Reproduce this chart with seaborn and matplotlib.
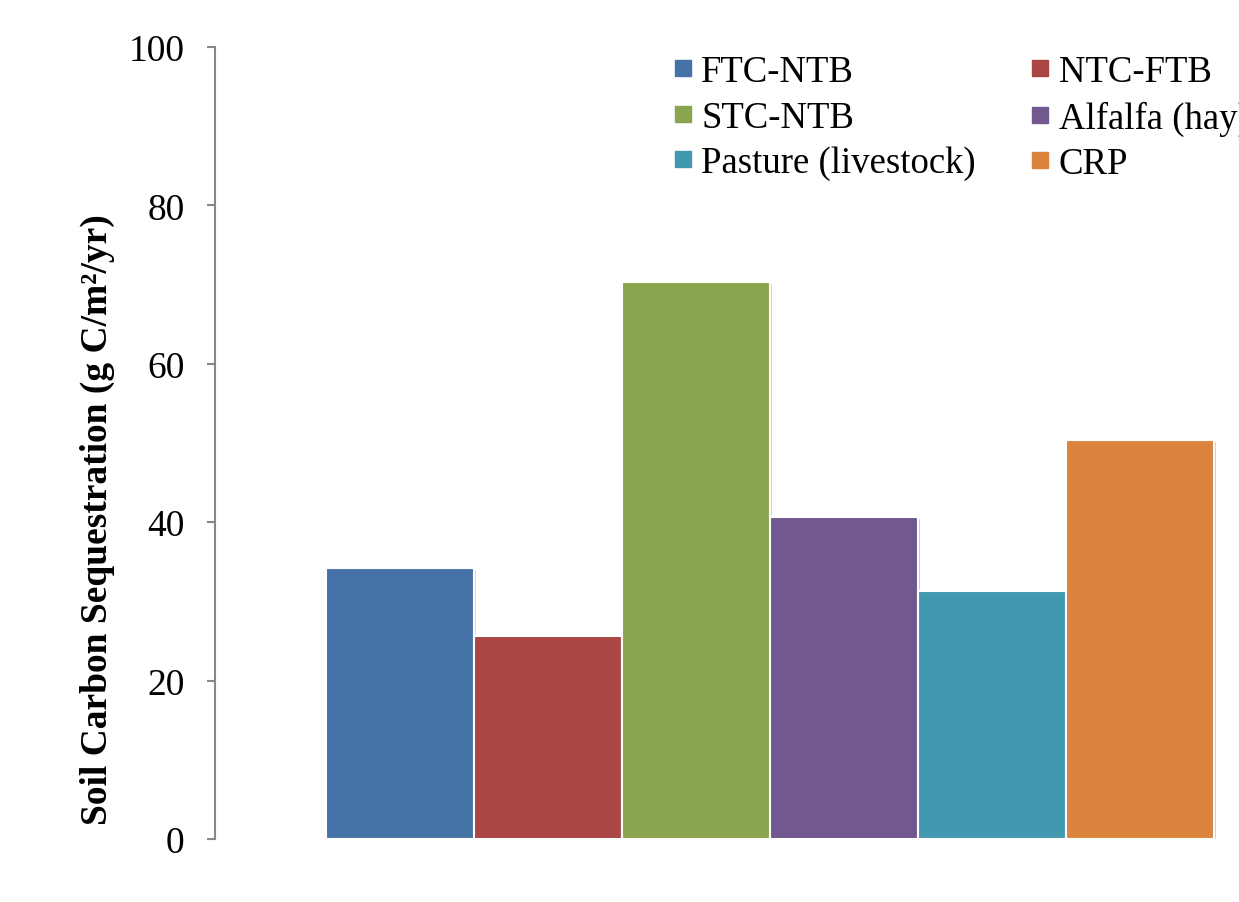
import matplotlib
matplotlib.use("Agg")
import matplotlib.pyplot as plt
import matplotlib.patheffects as pe
from matplotlib.lines import Line2D
import seaborn as sns
import pandas as pd

scenarios = ["FTC-NTB", "NTC-FTB", "STC-NTB", "Alfalfa (hay)", "Pasture (livestock)", "CRP"]
values = [34.2, 25.6, 70.3, 40.7, 31.3, 50.4]
colors = ["#4572A7", "#AA4643", "#89A54E", "#71588F", "#4198AF", "#DB843D"]
yticks = [0, 20, 40, 60, 80, 100]
ylabel = "Soil Carbon Sequestration (g C/m\u00b2/yr)"

df = pd.DataFrame({"group": ["all"] * len(scenarios), "Scenario": scenarios, "value": values})

sns.set_style("white")
plt.rcParams["font.family"] = ["Liberation Serif", "DejaVu Serif"]
plt.rcParams["text.color"] = "black"
plt.rcParams["ytick.labelcolor"] = "black"
plt.rcParams["axes.labelcolor"] = "black"

fig = plt.figure(figsize=(12.39, 9.03), dpi=100)
ax = fig.add_axes([215 / 1239, 1 - 840 / 903, 1110 / 1239, 792 / 903])

sns.barplot(data=df, x="group", y="value", hue="Scenario", hue_order=scenarios,
            palette=colors, ax=ax, width=0.8, edgecolor="white", linewidth=1.5,
            saturation=1, legend=False)
for p in ax.patches:
    p.set_path_effects([pe.SimplePatchShadow(offset=(1.5, -1.5), shadow_rgbFace="#000000", alpha=0.18),
                        pe.Normal()])

ax.set_xlim(-0.5, 0.5)
ax.set_ylim(0, 100)
ax.set_yticks(yticks)
ax.set_yticklabels([str(t) for t in yticks], fontsize=27, color="black")
ax.set_xticks([])
ax.set_xlabel("")
ax.set_ylabel(ylabel, fontsize=27, fontweight="bold", va="center", color="black")
ax.yaxis.set_label_coords(-0.106, 0.405)

for s in ["top", "right", "bottom"]:
    ax.spines[s].set_visible(False)
ax.spines["left"].set_color("#888888")
ax.spines["left"].set_linewidth(1.5)
ax.tick_params(axis="y", direction="out", length=6, width=1.5, color="#888888", pad=16, left=True)

# legend filled row-wise: reorder for matplotlib's column-wise fill
order = [0, 2, 4, 1, 3, 5]
handles = [Line2D([0], [0], marker="s", linestyle="none", markersize=11,
                  markerfacecolor=colors[i], markeredgecolor=colors[i]) for i in order]
labels = [scenarios[i] for i in order]
leg = fig.legend(handles, labels, loc="upper left", bbox_to_anchor=(657 / 1239, 1 - 41 / 903),
                 ncol=2, frameon=False, fontsize=26.5, handlelength=0.6, handletextpad=0.2,
                 columnspacing=1.45, labelspacing=0.3, borderaxespad=0)
for t in leg.get_texts():
    t.set_color("black")

fig.savefig("out.png", dpi=100)
